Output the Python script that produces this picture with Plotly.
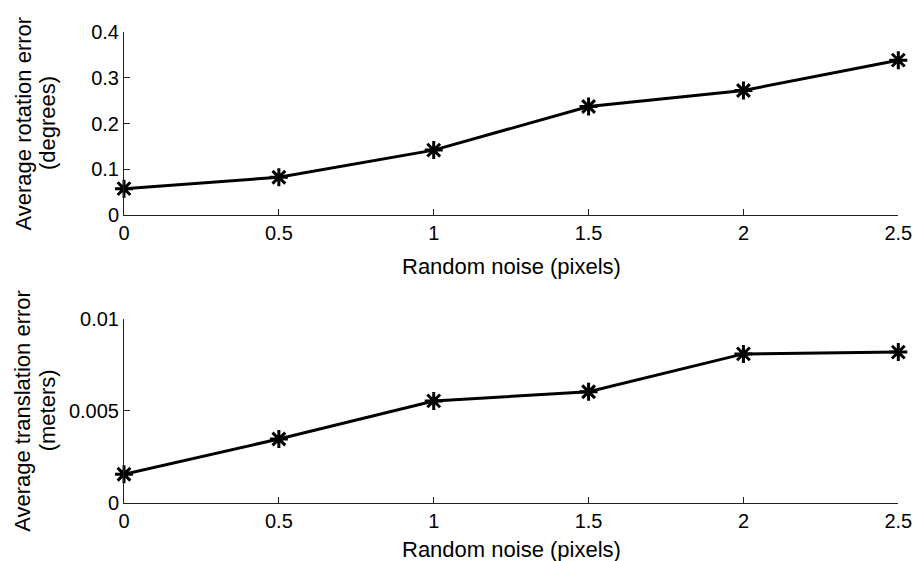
import plotly.graph_objects as go

noise = [0, 0.5, 1, 1.5, 2, 2.5]
rotation_error = [0.058, 0.083, 0.142, 0.237, 0.272, 0.338]
translation_error = [0.00155, 0.00347, 0.00554, 0.00604, 0.0081, 0.0082]

x_ticks = [0, 0.5, 1, 1.5, 2, 2.5]
x_ticklabels = ["0", "0.5", "1", "1.5", "2", "2.5"]
rot_ticks = [0, 0.1, 0.2, 0.3, 0.4]
rot_ticklabels = ["0", "0.1", "0.2", "0.3", "0.4"]
trans_ticks = [0, 0.005, 0.01]
trans_ticklabels = ["0", "0.005", "0.01"]

x_title = "Random noise (pixels)"
rot_title = ["Average rotation error", "(degrees)"]
trans_title = ["Average translation error", "(meters)"]

FONT = "Liberation Sans, Arial, sans-serif"

fig = go.Figure()
line_style = dict(color="black", width=3)
marker_style = dict(symbol="asterisk-open", size=15, color="black",
                    line=dict(color="black", width=3))

fig.add_trace(go.Scatter(x=noise, y=rotation_error, mode="lines+markers",
                         line=line_style, marker=marker_style,
                         cliponaxis=False, xaxis="x", yaxis="y", showlegend=False))
fig.add_trace(go.Scatter(x=noise, y=translation_error, mode="lines+markers",
                         line=line_style, marker=marker_style,
                         cliponaxis=False, xaxis="x2", yaxis="y2", showlegend=False))

W, H = 913, 561
x0, x1 = 124, 898.3
top_y0, top_y1 = 31.7, 215.3
bot_y0, bot_y1 = 319.0, 502.7

axis_common = dict(showline=True, linecolor="#222", linewidth=1, automargin=False,
                   ticks="inside", ticklen=6, tickcolor="#222", tickwidth=1,
                   showgrid=False, zeroline=False, ticklabelstandoff=0,
                   tickfont=dict(family=FONT, size=20, color="black"))

fig.update_layout(
    template="none",
    width=W, height=H,
    margin=dict(l=0, r=0, t=0, b=0, pad=0, autoexpand=False),
    paper_bgcolor="white", plot_bgcolor="white",
    xaxis=dict(domain=[x0 / W, x1 / W], range=[0, 2.5], anchor="y",
               tickvals=x_ticks, ticktext=x_ticklabels, **axis_common),
    yaxis=dict(domain=[1 - top_y1 / H, 1 - top_y0 / H], range=[0, 0.4], anchor="x",
               tickvals=rot_ticks, ticktext=rot_ticklabels, **axis_common),
    xaxis2=dict(domain=[x0 / W, x1 / W], range=[0, 2.5], anchor="y2",
                tickvals=x_ticks, ticktext=x_ticklabels, **axis_common),
    yaxis2=dict(domain=[1 - bot_y1 / H, 1 - bot_y0 / H], range=[0, 0.01], anchor="x2",
                tickvals=trans_ticks, ticktext=trans_ticklabels, **axis_common),
)

title_font = dict(family=FONT, size=22, color="black")
for ypix in (266, 549):
    fig.add_annotation(text=x_title, xref="paper", yref="paper",
                       x=(x0 + x1) / 2 / W, y=1 - ypix / H, showarrow=False,
                       xanchor="center", yanchor="middle", font=title_font)

for lines, (ya, yb) in ((rot_title, (top_y0, top_y1)), (trans_title, (bot_y0, bot_y1))):
    for line_text, xpix in zip(lines, (23, 47.5)):
        fig.add_annotation(text=line_text, xref="paper", yref="paper",
                           x=xpix / W, y=1 - (ya + yb) / 2 / H, showarrow=False,
                           textangle=-90, xanchor="center", yanchor="middle",
                           font=title_font)

fig.write_html("out.html")
